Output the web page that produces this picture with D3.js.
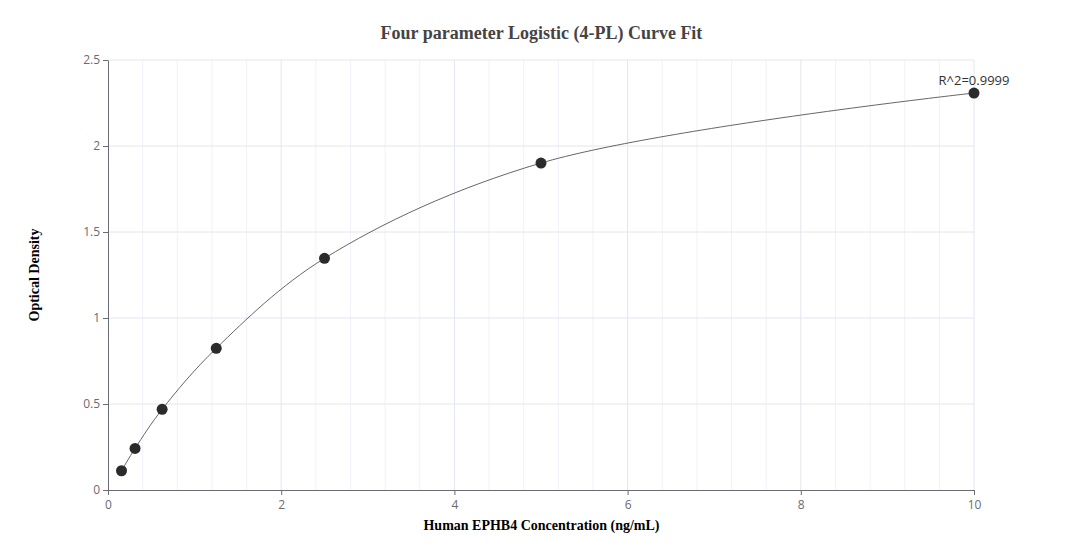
<!DOCTYPE html>
<html>
<head>
<meta charset="utf-8">
<script src="https://cdn.jsdelivr.net/npm/d3@7"></script>
<style>
  body { margin: 0; background: #fff; }
  svg text { font-family: "Open Sans", sans-serif; }
</style>
</head>
<body>
<svg></svg>
<script>
let w = 1083;
let h = 560;

// data
const concentration = [0.156, 0.3125, 0.625, 1.25, 2.5, 5, 10];
const density = [0.112, 0.242, 0.469, 0.824, 1.347, 1.901, 2.308];
const xTicks = [0, 2, 4, 6, 8, 10];
const yTicks = [0, 0.5, 1, 1.5, 2, 2.5];
const r2Label = 'R^2=0.9999';

const margin = {left: 108, right: 109, top: 60, bottom: 70};

const svg = d3.select('svg')
  .attr('width', w)
  .attr('height', h)

// Scales
const xScale = d3.scaleLinear()
  .domain([0, 10])
  .range([margin.left, w - margin.right])

const yScale = d3.scaleLinear()
  .domain([0, 2.5])
  .range([h - margin.bottom, margin.top])

// grid
const minorX = d3.range(0, 10.001, 0.4).filter(v => Math.abs(v / 2 - Math.round(v / 2)) > 0.01)
svg.append('g')
  .selectAll('line')
  .data(minorX)
  .enter()
  .append('line')
  .attr('x1', d => xScale(d)).attr('x2', d => xScale(d))
  .attr('y1', yScale(0)).attr('y2', yScale(2.5))
  .style('stroke', '#f0f2f8')

svg.append('g')
  .selectAll('line')
  .data(xTicks.slice(1))
  .enter()
  .append('line')
  .attr('x1', d => xScale(d)).attr('x2', d => xScale(d))
  .attr('y1', yScale(0)).attr('y2', yScale(2.5))
  .style('stroke', '#e2e6ef')

svg.append('g')
  .selectAll('line')
  .data(yTicks.slice(1))
  .enter()
  .append('line')
  .attr('x1', xScale(0)).attr('x2', xScale(10))
  .attr('y1', d => yScale(d)).attr('y2', d => yScale(d))
  .style('stroke', '#e2e6ef')

// Axes
const xAxis = d3.axisBottom(xScale)
  .tickValues(xTicks)
  .tickSize(5)
  .tickSizeOuter(0)
  .tickFormat(d => String(d))

const gx = svg.append('g')
  .attr('transform', 'translate(0,' + yScale(0) + ')')
  .call(xAxis)

const yAxis = d3.axisLeft(yScale)
  .tickValues(yTicks)
  .tickSize(5)
  .tickSizeOuter(0)
  .tickFormat(d => String(d))

const gy = svg.append('g')
  .attr('transform', 'translate(' + xScale(0) + ',0)')
  .call(yAxis)

;[gx, gy].forEach(g => {
  g.select('.domain').style('stroke', '#6b6b73')
  g.selectAll('.tick line').style('stroke', '#6b6b73')
  g.selectAll('.tick text')
    .style('fill', '#6b6b73')
    .style('font-size', '12px')
    .style('font-family', '"Open Sans", sans-serif')
})
gx.selectAll('.tick text').attr('dy', '0.95em')

// curve through the points (centripetal spline)
const line = d3.line()
  .x(d => xScale(d))
  .y((d, i) => yScale(density[i]))
  .curve(d3.curveCatmullRom.alpha(0.5))

svg.append('path')
  .datum(concentration)
  .attr('d', line)
  .style('fill', 'none')
  .style('stroke', '#555')
  .style('stroke-width', 0.9)

// Draw
svg.selectAll('circle')
  .data(concentration)
  .enter()
  .append('circle')
  .attr('cx', d => xScale(d))
  .attr('cy', (d, i) => yScale(density[i]))
  .attr('r', 5.5)
  .style('fill', '#2b2b2b')

svg.append('text')
  .attr('x', xScale(10))
  .attr('y', yScale(density[6]) - 8)
  .attr('text-anchor', 'middle')
  .style('font-size', '13px')
  .style('fill', '#333')
  .text(r2Label)

// titles
svg.append('text')
  .attr('x', w / 2)
  .attr('y', 39)
  .attr('text-anchor', 'middle')
  .style('font-family', '"Liberation Serif", serif')
  .style('font-weight', 'bold')
  .style('font-size', '18px')
  .style('fill', '#444')
  .text('Four parameter Logistic (4-PL) Curve Fit')

svg.append('text')
  .attr('x', w / 2)
  .attr('y', 530)
  .attr('text-anchor', 'middle')
  .style('font-family', '"Liberation Serif", serif')
  .style('font-weight', 'bold')
  .style('font-size', '14px')
  .style('fill', '#000')
  .text('Human EPHB4 Concentration (ng/mL)')

svg.append('text')
  .attr('transform', 'translate(39,' + 275 + ') rotate(-90)')
  .attr('text-anchor', 'middle')
  .style('font-family', '"Liberation Serif", serif')
  .style('font-weight', 'bold')
  .style('font-size', '14px')
  .style('fill', '#000')
  .text('Optical Density')
</script>
</body>
</html>
